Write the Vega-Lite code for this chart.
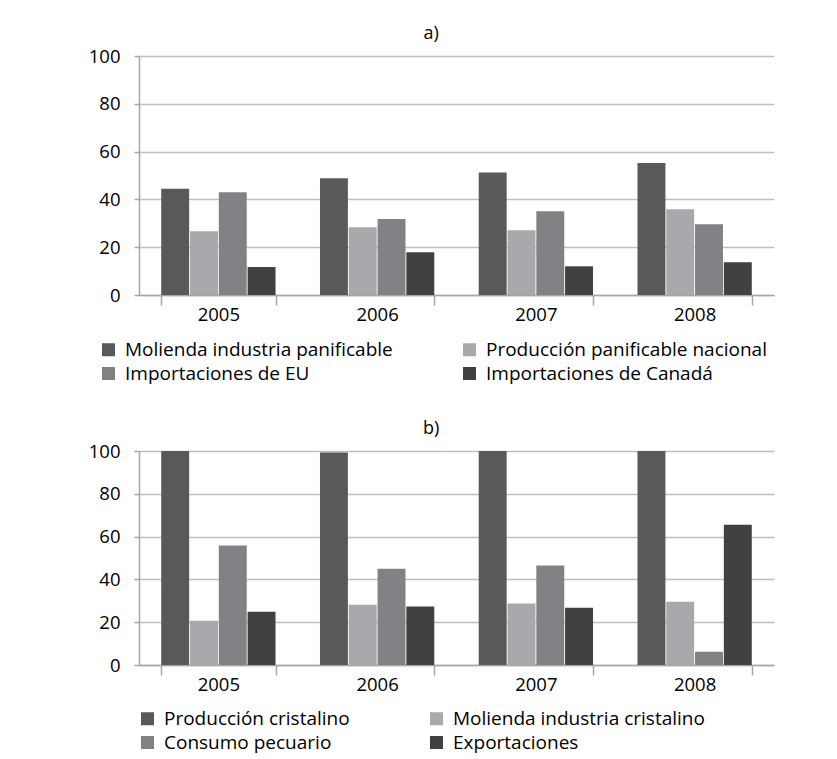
{
  "$schema": "https://vega.github.io/schema/vega-lite/v6.json",
  "background": "white",
  "padding": {"left": 88, "top": 25, "right": 10, "bottom": 5},
  "datasets": {
    "a": [
      {"year": "2005", "serie": "Molienda industria panificable", "value": 44.5},
      {"year": "2005", "serie": "Producción panificable nacional", "value": 26.7},
      {"year": "2005", "serie": "Importaciones de EU", "value": 43.0},
      {"year": "2005", "serie": "Importaciones de Canadá", "value": 11.7},
      {"year": "2006", "serie": "Molienda industria panificable", "value": 48.8},
      {"year": "2006", "serie": "Producción panificable nacional", "value": 28.3},
      {"year": "2006", "serie": "Importaciones de EU", "value": 31.8},
      {"year": "2006", "serie": "Importaciones de Canadá", "value": 17.9},
      {"year": "2007", "serie": "Molienda industria panificable", "value": 51.3},
      {"year": "2007", "serie": "Producción panificable nacional", "value": 27.1},
      {"year": "2007", "serie": "Importaciones de EU", "value": 35.0},
      {"year": "2007", "serie": "Importaciones de Canadá", "value": 12.0},
      {"year": "2008", "serie": "Molienda industria panificable", "value": 55.2},
      {"year": "2008", "serie": "Producción panificable nacional", "value": 35.9},
      {"year": "2008", "serie": "Importaciones de EU", "value": 29.6},
      {"year": "2008", "serie": "Importaciones de Canadá", "value": 13.7}
    ],
    "b": [
      {"year": "2005", "serie": "Producción cristalino", "value": 100},
      {"year": "2005", "serie": "Molienda industria cristalino", "value": 20.7},
      {"year": "2005", "serie": "Consumo pecuario", "value": 55.8},
      {"year": "2005", "serie": "Exportaciones", "value": 24.9},
      {"year": "2006", "serie": "Producción cristalino", "value": 99.3},
      {"year": "2006", "serie": "Molienda industria cristalino", "value": 28.2},
      {"year": "2006", "serie": "Consumo pecuario", "value": 45.0},
      {"year": "2006", "serie": "Exportaciones", "value": 27.3},
      {"year": "2007", "serie": "Producción cristalino", "value": 100},
      {"year": "2007", "serie": "Molienda industria cristalino", "value": 28.7},
      {"year": "2007", "serie": "Consumo pecuario", "value": 46.5},
      {"year": "2007", "serie": "Exportaciones", "value": 26.7},
      {"year": "2008", "serie": "Producción cristalino", "value": 100},
      {"year": "2008", "serie": "Molienda industria cristalino", "value": 29.6},
      {"year": "2008", "serie": "Consumo pecuario", "value": 6.2},
      {"year": "2008", "serie": "Exportaciones", "value": 65.5}
    ]
  },
  "config": {
    "font": "Open Sans",
    "view": {"stroke": null},
    "axis": {
      "labelFontSize": 18.5,
      "labelColor": "#000000",
      "domainColor": "#a6a6a6",
      "tickColor": "#a6a6a6",
      "gridColor": "#bfbfbf",
      "domainWidth": 1.5,
      "tickWidth": 1.5,
      "gridWidth": 1.5,
      "title": null
    },
    "legend": {
      "orient": "none",
      "direction": "horizontal",
      "columns": 2,
      "symbolType": "square",
      "symbolSize": 169,
      "symbolStrokeWidth": 0,
      "labelFontSize": 19,
      "labelColor": "#000000",
      "labelLimit": 400,
      "labelOffset": 7,
      "rowPadding": 4,
      "title": null
    },
    "title": {"fontSize": 18, "fontWeight": "normal", "color": "#000000", "font": "Open Sans", "frame": "bounds", "anchor": "middle"}
  },
  "spacing": 36,
  "resolve": {"scale": {"color": "independent", "xOffset": "independent", "x": "independent", "y": "independent"}},
  "vconcat": [
    {
      "title": "a)",
      "width": 635,
      "height": 239,
      "data": {"name": "a"},
      "mark": {"type": "bar"},
      "encoding": {
        "x": {"field": "year", "type": "nominal", "scale": {"paddingInner": 0.28, "paddingOuter": 0.14},
              "axis": {"labelAngle": 0, "tickBand": "extent", "tickSize": 10, "labelPadding": 0}},
        "xOffset": {"field": "serie", "type": "nominal",
                    "scale": {"domain": ["Molienda industria panificable", "Producción panificable nacional", "Importaciones de EU", "Importaciones de Canadá"], "paddingInner": 0.03}},
        "y": {"field": "value", "type": "quantitative", "scale": {"domain": [0, 100]},
              "axis": {"values": [0, 20, 40, 60, 80, 100], "tickSize": 5, "labelPadding": 14}},
        "color": {"field": "serie", "type": "nominal",
                  "scale": {"domain": ["Molienda industria panificable", "Producción panificable nacional", "Importaciones de EU", "Importaciones de Canadá"],
                            "range": ["#58595b", "#a7a9ac", "#808285", "#414042"]},
                  "legend": {"columnPadding": 67, "legendX": -40, "legendY": 284}}
      }
    },
    {
      "title": "b)",
      "width": 635,
      "height": 214,
      "data": {"name": "b"},
      "mark": {"type": "bar"},
      "encoding": {
        "x": {"field": "year", "type": "nominal", "scale": {"paddingInner": 0.28, "paddingOuter": 0.14},
              "axis": {"labelAngle": 0, "tickBand": "extent", "tickSize": 10, "labelPadding": 0}},
        "xOffset": {"field": "serie", "type": "nominal",
                    "scale": {"domain": ["Producción cristalino", "Molienda industria cristalino", "Consumo pecuario", "Exportaciones"], "paddingInner": 0.03}},
        "y": {"field": "value", "type": "quantitative", "scale": {"domain": [0, 100]},
              "axis": {"values": [0, 20, 40, 60, 80, 100], "tickSize": 5, "labelPadding": 14}},
        "color": {"field": "serie", "type": "nominal",
                  "scale": {"domain": ["Producción cristalino", "Molienda industria cristalino", "Consumo pecuario", "Exportaciones"],
                            "range": ["#58595b", "#a7a9ac", "#808285", "#414042"]},
                  "legend": {"columnPadding": 77, "legendX": -1, "legendY": 258}}
      }
    }
  ]
}
